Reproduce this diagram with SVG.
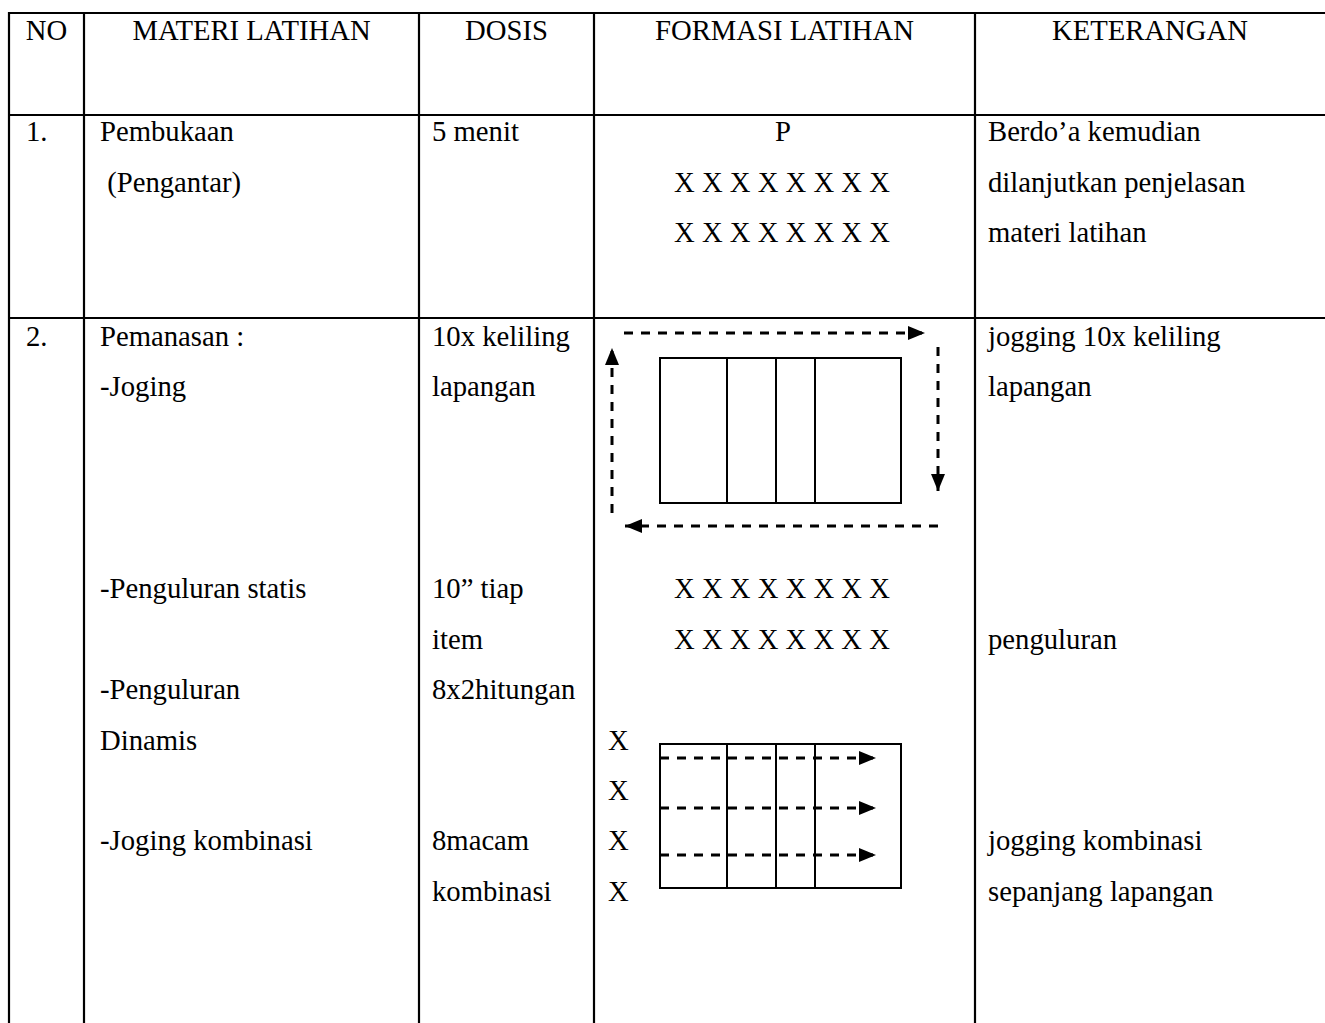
<svg xmlns="http://www.w3.org/2000/svg" width="1325" height="1023" viewBox="0 0 1325 1023">
<style>
text{font-family:"Liberation Serif","Times New Roman",serif;font-size:28.7px;fill:#000}
.c{text-anchor:middle}
.grid{stroke:#000;stroke-width:2.2;fill:none}
.court{stroke:#000;stroke-width:2;fill:none}
.dash{stroke:#000;stroke-width:3;fill:none;stroke-dasharray:9 8;marker-end:url(#ah)}
</style>
<defs>
<marker id="ah" viewBox="0 0 17 14" refX="17" refY="7" markerWidth="17" markerHeight="14" orient="auto" markerUnits="userSpaceOnUse">
<path d="M0,0 L17,7 L0,14 z" fill="#000"/>
</marker>
</defs>
<rect width="1325" height="1023" fill="#fff"/>
<g id="table-grid" class="grid">
<line x1="8" y1="13" x2="1325" y2="13"/>
<line x1="8" y1="115" x2="1325" y2="115"/>
<line x1="8" y1="318" x2="1325" y2="318"/>
<line x1="9" y1="12" x2="9" y2="1023"/>
<line x1="84" y1="12" x2="84" y2="1023"/>
<line x1="419" y1="12" x2="419" y2="1023"/>
<line x1="594" y1="12" x2="594" y2="1023"/>
<line x1="975" y1="12" x2="975" y2="1023"/>
</g>
<g id="header">
<text class="c" x="46.5" y="40">NO</text>
<text class="c" x="251.5" y="40">MATERI LATIHAN</text>
<text class="c" x="506.5" y="40">DOSIS</text>
<text class="c" x="784.5" y="40">FORMASI LATIHAN</text>
<text class="c" x="1150" y="40">KETERANGAN</text>
</g>
<g id="row1">
<text x="26" y="141">1.</text>
<text x="100" y="141">Pembukaan</text>
<text x="100" y="191.5" xml:space="preserve"> (Pengantar)</text>
<text x="432" y="141">5 menit</text>
<text class="c" x="783" y="141">P</text>
<text class="c" x="782" y="191.5">X X X X X X X X</text>
<text class="c" x="782" y="242">X X X X X X X X</text>
<text x="988" y="141">Berdo’a kemudian</text>
<text x="988" y="191.5">dilanjutkan penjelasan</text>
<text x="988" y="242">materi latihan</text>
</g>
<g id="row2-text">
<text x="26" y="346">2.</text>
<text x="100" y="346">Pemanasan :</text>
<text x="100" y="396.4">-Joging</text>
<text x="100" y="598">-Penguluran statis</text>
<text x="100" y="699">-Penguluran</text>
<text x="100" y="749.5">Dinamis</text>
<text x="100" y="850">-Joging kombinasi</text>
<text x="432" y="346">10x keliling</text>
<text x="432" y="396.4">lapangan</text>
<text x="432" y="598">10” tiap</text>
<text x="432" y="648.6">item</text>
<text x="432" y="699">8x2hitungan</text>
<text x="432" y="850">8macam</text>
<text x="432" y="900.5">kombinasi</text>
<text class="c" x="782" y="598">X X X X X X X X</text>
<text class="c" x="782" y="648.6">X X X X X X X X</text>
<text x="608" y="749.5">X</text>
<text x="608" y="800">X</text>
<text x="608" y="850">X</text>
<text x="608" y="900.5">X</text>
<text x="988" y="346">jogging 10x keliling</text>
<text x="988" y="396.4">lapangan</text>
<text x="988" y="648.6">penguluran</text>
<text x="988" y="850">jogging kombinasi</text>
<text x="988" y="900.5">sepanjang lapangan</text>
</g>
<g id="court-jogging" class="court">
<rect x="660" y="358" width="241" height="145"/>
<line x1="727" y1="358" x2="727" y2="503"/>
<line x1="776" y1="358" x2="776" y2="503"/>
<line x1="815" y1="358" x2="815" y2="503"/>
</g>
<g id="court-combination" class="court">
<rect x="660" y="744" width="241" height="144"/>
<line x1="727" y1="744" x2="727" y2="888"/>
<line x1="776" y1="744" x2="776" y2="888"/>
<line x1="815" y1="744" x2="815" y2="888"/>
</g>
<g id="connectors">
<path class="dash" d="M624,333 H925"/>
<path class="dash" d="M938,347 V491"/>
<path class="dash" d="M938,526 H625"/>
<path class="dash" d="M612,513 V348"/>
<path class="dash" d="M660,758 H876"/>
<path class="dash" d="M660,808 H876"/>
<path class="dash" d="M660,855 H876"/>
</g>
</svg>
